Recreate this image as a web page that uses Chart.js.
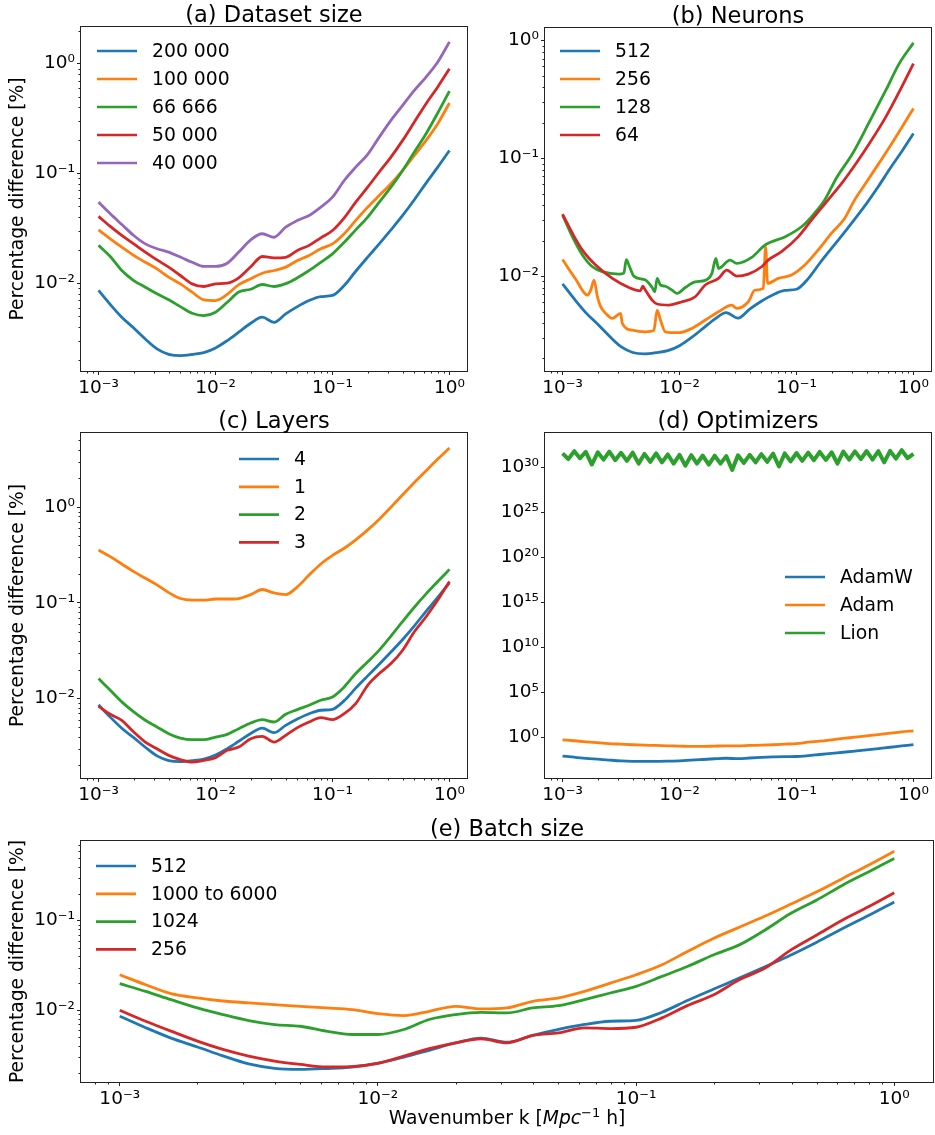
<!DOCTYPE html>
<html>
<head>
<meta charset="utf-8">
<script src="https://cdn.jsdelivr.net/npm/chart.js"></script>
<style>
  body { margin: 0; background: #fff; width: 935px; height: 1135px; position: relative; overflow: hidden; }
  canvas { position: absolute; }
</style>
</head>
<body>
<canvas id="cA" width="470" height="400" style="left:0;top:0"></canvas>
<canvas id="cB" width="465" height="400" style="left:470px;top:0"></canvas>
<canvas id="cC" width="470" height="400" style="left:0;top:400px"></canvas>
<canvas id="cD" width="465" height="400" style="left:470px;top:400px"></canvas>
<canvas id="cE" width="935" height="335" style="left:0;top:800px"></canvas>
<script>
// wavenumber grid k (10^-3 .. 10^0, 0.1 dex steps)
const kGrid = [0.001, 0.00126, 0.00158, 0.002, 0.00251, 0.00316, 0.00398, 0.00501, 0.00631, 0.00794,
  0.01, 0.0126, 0.0158, 0.02, 0.0251, 0.0316, 0.0398, 0.0501, 0.0631, 0.0794,
  0.1, 0.126, 0.158, 0.2, 0.251, 0.316, 0.398, 0.501, 0.631, 0.794, 1];

// reference run (200 000 samples, 512 neurons, 4 layers, AdamW, batch 512)
const baseline = [0.0086, 0.0064, 0.0049, 0.0039, 0.0031, 0.00252, 0.00225, 0.00219, 0.00224, 0.00233,
  0.00257, 0.0030, 0.00358, 0.00432, 0.0049, 0.0044, 0.00525, 0.00612, 0.00695, 0.00755,
  0.00773, 0.00952, 0.01285, 0.01726, 0.02285, 0.0306, 0.0414, 0.0575, 0.0817, 0.114, 0.162];

// (a) dataset size
const labelsA = ['200 000', '100 000', '66 666', '50 000', '40 000'];
const a100k = [0.0306, 0.0254, 0.0213, 0.0179, 0.0155, 0.0135, 0.01135, 0.00986, 0.00828, 0.00705,
  0.00695, 0.0079, 0.0097, 0.01096, 0.01233, 0.01305, 0.014, 0.0161, 0.0179, 0.0206,
  0.0228, 0.0282, 0.0373, 0.0493, 0.063, 0.0805, 0.1065, 0.146, 0.2, 0.284, 0.438];
const a66k = [0.0221, 0.0175, 0.01305, 0.01057, 0.0092, 0.008, 0.00705, 0.00612, 0.00532, 0.00507,
  0.00544, 0.0067, 0.0083, 0.0088, 0.00973, 0.00933, 0.0099, 0.0112, 0.01305, 0.0155,
  0.0185, 0.0236, 0.0306, 0.04, 0.0548, 0.075, 0.1065, 0.157, 0.23, 0.355, 0.563];
const a50k = [0.0406, 0.0329, 0.0272, 0.0228, 0.0192, 0.0163, 0.014, 0.01175, 0.00986, 0.00933,
  0.00986, 0.0100, 0.0112, 0.0141, 0.0175, 0.017, 0.0172, 0.0199, 0.0221, 0.0259,
  0.0302, 0.0394, 0.0548, 0.075, 0.103, 0.141, 0.2, 0.294, 0.432, 0.613, 0.90];
const a40k = [0.0548, 0.0429, 0.0343, 0.0272, 0.0228, 0.0206, 0.0192, 0.0173, 0.0155, 0.0142,
  0.0142, 0.0152, 0.0192, 0.0248, 0.0282, 0.0262, 0.0324, 0.0373, 0.0414, 0.0493,
  0.0608, 0.0862, 0.114, 0.149, 0.214, 0.304, 0.417, 0.571, 0.755, 1.035, 1.58];

// (b) neurons, the spiky curves have their own k points
const labelsB = ['512', '256', '128', '64'];
const kB256 = [0.001, 0.001297, 0.001633, 0.001742, 0.001858, 0.001986, 0.002118, 0.002339, 0.002667, 0.003133,
  0.003243, 0.003945, 0.005117, 0.006026, 0.006442, 0.006871, 0.007568, 0.009817, 0.01276, 0.0166,
  0.02153, 0.02799, 0.03083, 0.03873, 0.04416, 0.052, 0.05445, 0.05662, 0.06966, 0.09057,
  0.1178, 0.1528, 0.1986, 0.2576, 0.3133, 0.3981, 0.5012, 0.631, 0.7943, 1];
const b256 = [0.0138, 0.0094, 0.0069, 0.0076, 0.00925, 0.00668, 0.0055, 0.00483, 0.00438, 0.00483,
  0.00397, 0.00348, 0.00337, 0.00345, 0.00515, 0.00424, 0.00337, 0.00331, 0.0036, 0.00424,
  0.00499, 0.00568, 0.00532, 0.00606, 0.0076, 0.00786, 0.01774, 0.00867, 0.00955, 0.0102,
  0.0124, 0.0166, 0.023, 0.0308, 0.0441, 0.063, 0.089, 0.126, 0.182, 0.264];
const kB128 = [0.001, 0.001216, 0.001479, 0.001799, 0.002188, 0.003034, 0.003342, 0.003508, 0.003741, 0.004064,
  0.005117, 0.005834, 0.006138, 0.006442, 0.006871, 0.007568, 0.00863, 0.009528, 0.0112, 0.01361,
  0.0166, 0.01892, 0.02046, 0.02153, 0.02704, 0.03083, 0.0414, 0.0537, 0.06124, 0.07943,
  0.1104, 0.1343, 0.1742, 0.2183, 0.3027, 0.4198, 0.5808, 0.7551, 1];
const b128 = [0.0329, 0.0215, 0.0151, 0.012, 0.0109, 0.0104, 0.0106, 0.0138, 0.012, 0.01,
  0.00925, 0.008, 0.00736, 0.00955, 0.0084, 0.0082, 0.0076, 0.00713, 0.008, 0.00895,
  0.0092, 0.01054, 0.0141, 0.0116, 0.01367, 0.0128, 0.0144, 0.0183, 0.01954, 0.0215,
  0.0262, 0.0318, 0.0441, 0.0673, 0.11, 0.203, 0.377, 0.634, 0.95];
const kB64 = [0.001, 0.001216, 0.001479, 0.001919, 0.002667, 0.00369, 0.004634, 0.004853, 0.00507, 0.005834,
  0.006442, 0.008072, 0.0105, 0.01361, 0.0166, 0.02153, 0.02535, 0.03083, 0.03873, 0.05035,
  0.05728, 0.07447, 0.1033, 0.1343, 0.1858, 0.2489, 0.3228, 0.4198, 0.5808, 0.7551, 1];
const b64 = [0.0335, 0.023, 0.0166, 0.0124, 0.00955, 0.008, 0.0075, 0.00823, 0.0077, 0.00626,
  0.0058, 0.00568, 0.00606, 0.00668, 0.0084, 0.00955, 0.01125, 0.01, 0.0104, 0.012,
  0.01367, 0.0161, 0.0215, 0.0298, 0.0441, 0.063, 0.0902, 0.133, 0.224, 0.365, 0.634];

// (c) layers
const labelsC = ['4', '1', '2', '3'];
const c1 = [0.357, 0.304, 0.255, 0.212, 0.181, 0.154, 0.128, 0.111, 0.107, 0.107,
  0.1097, 0.1097, 0.111, 0.122, 0.138, 0.127, 0.122, 0.147, 0.195, 0.255,
  0.314, 0.372, 0.455, 0.579, 0.749, 1.0, 1.346, 1.81, 2.40, 3.18, 4.15];
const c2 = [0.0162, 0.01222, 0.00923, 0.00725, 0.00593, 0.00505, 0.0043, 0.00387, 0.00372, 0.00372,
  0.00396, 0.00423, 0.00485, 0.00555, 0.00603, 0.00569, 0.00685, 0.00767, 0.0085, 0.0096,
  0.0104, 0.01324, 0.01827, 0.0242, 0.0321, 0.045, 0.064, 0.09, 0.124, 0.167, 0.224];
const c3 = [0.0083, 0.00685, 0.00593, 0.00447, 0.00351, 0.00299, 0.00255, 0.0023, 0.00217, 0.00226,
  0.00241, 0.00288, 0.00311, 0.00381, 0.00403, 0.00351, 0.00413, 0.00497, 0.00569, 0.00632,
  0.00603, 0.00697, 0.00887, 0.01377, 0.01827, 0.0232, 0.032, 0.0499, 0.0716, 0.107, 0.167];

// (d) optimizers
const labelsD = ['AdamW', 'Adam', 'Lion'];
const dAdam = [0.55, 0.43, 0.33, 0.26, 0.21, 0.18, 0.155, 0.14, 0.13, 0.118,
  0.11, 0.1, 0.1, 0.11, 0.118, 0.118, 0.13, 0.14, 0.155, 0.18,
  0.21, 0.3, 0.39, 0.55, 0.78, 1.07, 1.5, 2.1, 3.0, 4.2, 5.4];
const kLion = [0.001, 0.00112, 0.00126, 0.00141, 0.00158, 0.00178, 0.002, 0.00224, 0.00251, 0.00282,
  0.00316, 0.00355, 0.00398, 0.00447, 0.00501, 0.00562, 0.00631, 0.00708, 0.00794, 0.00891,
  0.01, 0.0112, 0.0126, 0.0141, 0.0158, 0.0178, 0.02, 0.0224, 0.0251, 0.0282,
  0.0316, 0.0355, 0.0398, 0.0447, 0.0501, 0.0562, 0.0631, 0.0708, 0.0794, 0.0891,
  0.1, 0.112, 0.126, 0.141, 0.158, 0.178, 0.2, 0.224, 0.251, 0.282,
  0.316, 0.355, 0.398, 0.447, 0.501, 0.562, 0.631, 0.708, 0.794, 0.891, 1];
const dLion = [3.5e31, 8.0e30, 6.0e31, 1.0e31, 5.0e31, 2.0e30, 4.5e31, 7.0e30, 5.5e31, 6.0e30,
  4.0e31, 5.0e30, 4.2e31, 2.5e30, 3.0e31, 4.0e30, 3.5e31, 3.5e30, 2.6e31, 2.5e30,
  2.4e31, 1.5e30, 2.2e31, 2.5e30, 2.0e31, 2.0e30, 1.9e31, 2.5e30, 1.7e31, 5.0e29,
  2.1e31, 3.0e30, 2.4e31, 3.5e30, 2.8e31, 4.0e30, 3.2e31, 1.2e30, 3.4e31, 4.5e30,
  3.8e31, 5.0e30, 4.2e31, 6.0e30, 5.0e31, 6.5e30, 4.6e31, 2.5e30, 5.5e31, 7.0e30,
  5.8e31, 8.0e30, 6.3e31, 7.0e30, 6.0e31, 3.5e30, 6.5e31, 9.0e30, 8.0e31, 1.0e31, 3.0e31];

// (e) batch size
const labelsE = ['512', '1000 to 6000', '1024', '256'];
const e1000 = [0.0249, 0.0193, 0.01535, 0.01374, 0.0127, 0.01208, 0.01156, 0.01107, 0.01063, 0.01018,
  0.00918, 0.00873, 0.00975, 0.01107, 0.01035, 0.01063, 0.01259, 0.01374, 0.01626, 0.0201,
  0.0249, 0.0322, 0.0453, 0.0637, 0.0844, 0.1127, 0.1534, 0.21, 0.296, 0.416, 0.594];
const e1024 = [0.0198, 0.01626, 0.01315, 0.01063, 0.00896, 0.00768, 0.00693, 0.00664, 0.00585, 0.00537,
  0.00537, 0.00611, 0.00789, 0.00896, 0.0095, 0.00935, 0.01063, 0.01127, 0.01315, 0.0156,
  0.0185, 0.0239, 0.0308, 0.0416, 0.0537, 0.0788, 0.1208, 0.170, 0.249, 0.35, 0.493];
const e256 = [0.0100, 0.00755, 0.00585, 0.00453, 0.00366, 0.00308, 0.00271, 0.00249, 0.00233, 0.00235,
  0.00256, 0.00308, 0.00373, 0.00434, 0.00481, 0.00434, 0.00524, 0.00561, 0.00637, 0.00625,
  0.00647, 0.00823, 0.01127, 0.0149, 0.0219, 0.0296, 0.0472, 0.0693, 0.102, 0.143, 0.205];

const C = ['#1f77b4', '#ff7f0e', '#2ca02c', '#d62728', '#9467bd'];
const FONT = "'DejaVu Sans'";
const SUP = {'-': '\u207B', '0': '\u2070', '1': '\u00B9', '2': '\u00B2', '3': '\u00B3', '4': '\u2074',
  '5': '\u2075', '6': '\u2076', '7': '\u2077', '8': '\u2078', '9': '\u2079'};
const powLabel = v => '10' + String(Math.round(Math.log10(v))).split('').map(c => SUP[c]).join('');

// frame, minor ticks, title, legend and axis titles drawn matplotlib-like
const panelDeco = {
  id: 'panelDeco',
  afterDraw(chart, args, o) {
    const ctx = chart.ctx, a = chart.chartArea;
    ctx.save();
    ctx.strokeStyle = '#222';
    ctx.lineWidth = 1;
    ctx.strokeRect(a.left - 0.5, a.top - 0.5, a.right - a.left + 1, a.bottom - a.top + 1);

    const minors = (sc, horiz) => {
      const lo = Math.floor(Math.log10(sc.min)), hi = Math.ceil(Math.log10(sc.max));
      ctx.beginPath();
      for (let d = lo; d <= hi; d++) {
        for (let m = 2; m <= 9; m++) {
          const v = m * Math.pow(10, d);
          if (v < sc.min || v > sc.max) continue;
          const p = Math.round(sc.getPixelForValue(v)) + 0.5;
          if (horiz) { ctx.moveTo(p, a.bottom); ctx.lineTo(p, a.bottom + 2.5); }
          else { ctx.moveTo(a.left, p); ctx.lineTo(a.left - 2.5, p); }
        }
      }
      ctx.stroke();
    };
    minors(chart.scales.x, true);
    if (o.minorY) minors(chart.scales.y, false);

    ctx.fillStyle = '#000';
    ctx.font = '22.5px ' + FONT;
    ctx.textAlign = 'center';
    ctx.textBaseline = 'alphabetic';
    ctx.fillText(o.title, (a.left + a.right) / 2, a.top - 5);

    const lg = o.legend;
    ctx.font = '18.8px ' + FONT;
    ctx.textAlign = 'left';
    ctx.textBaseline = 'middle';
    chart.data.datasets.forEach((ds, i) => {
      const x = a.left + lg.x, y = a.top + lg.y + i * lg.dy;
      ctx.strokeStyle = ds.borderColor;
      ctx.lineWidth = 2.7;
      ctx.beginPath(); ctx.moveTo(x, y); ctx.lineTo(x + 40, y); ctx.stroke();
      ctx.fillText(ds.label, x + 55, y + 1);
    });

    if (o.yTitle) {
      ctx.save();
      ctx.translate(18, (a.top + a.bottom) / 2);
      ctx.rotate(-Math.PI / 2);
      ctx.font = '18.7px ' + FONT;
      ctx.textAlign = 'center';
      ctx.fillText('Percentage difference [%]', 0, 0);
      ctx.restore();
    }

    if (o.xTitle) {
      const parts = [
        ['Wavenumber k [', '18.7px ' + FONT, 0],
        ['Mpc', 'italic 18.7px ' + FONT, 0],
        ['\u22121', '13px ' + FONT, -7],
        [' h]', '18.7px ' + FONT, 0]
      ];
      let w = 0;
      parts.forEach(p => { ctx.font = p[1]; w += ctx.measureText(p[0]).width; });
      let x = (a.left + a.right) / 2 - w / 2;
      ctx.textAlign = 'left';
      ctx.textBaseline = 'alphabetic';
      parts.forEach(p => {
        ctx.font = p[1];
        ctx.fillText(p[0], x, o.xTitle + p[2]);
        x += ctx.measureText(p[0]).width;
      });
    }
    ctx.restore();
  }
};

function logAxis(min, max, majors, fit) {
  return {
    type: 'logarithmic', min: min, max: max,
    afterBuildTicks: sc => { sc.ticks = majors.map(v => ({ value: v })); },
    afterFit: fit,
    ticks: { autoSkip: false, maxRotation: 0, minRotation: 0, padding: 2, color: '#000',
      font: { family: FONT, size: 18.5 }, callback: v => powLabel(v) },
    grid: { drawOnChartArea: false, tickLength: 4, tickColor: '#222', tickWidth: 1 },
    border: { display: false }
  };
}

function panel(id, p) {
  const n = p.series.length;
  return new Chart(document.getElementById(id), {
    type: 'line',
    data: {
      datasets: p.series.map((s, i) => ({
        label: s.label,
        data: s.k.map((k, j) => ({ x: k, y: s.v[j] })),
        borderColor: s.color, backgroundColor: s.color,
        borderWidth: s.width || 2.8, pointRadius: 0, fill: false,
        cubicInterpolationMode: s.straight ? 'default' : 'monotone', tension: 0,
        borderJoinStyle: 'round',
        order: n - i
      }))
    },
    options: {
      responsive: false, animation: false, devicePixelRatio: 1,
      layout: { autoPadding: false, padding: p.pad },
      scales: {
        x: logAxis(Math.pow(10, -3.15), Math.pow(10, 0.15), [0.001, 0.01, 0.1, 1], sc => { sc.height = p.xH; }),
        y: logAxis(p.yMin, p.yMax, p.yMajors, sc => { sc.width = p.yW; })
      },
      plugins: { legend: { display: false }, tooltip: { enabled: false }, panelDeco: p.deco }
    },
    plugins: [panelDeco]
  });
}

panel('cA', {
  pad: { left: 0, right: 3, top: 27, bottom: 0 }, xH: 29, yW: 81,
  yMin: Math.pow(10, -2.80), yMax: Math.pow(10, 0.334), yMajors: [0.01, 0.1, 1],
  series: [
    { label: labelsA[0], k: kGrid, v: baseline, color: C[0] },
    { label: labelsA[1], k: kGrid, v: a100k, color: C[1] },
    { label: labelsA[2], k: kGrid, v: a66k, color: C[2] },
    { label: labelsA[3], k: kGrid, v: a50k, color: C[3] },
    { label: labelsA[4], k: kGrid, v: a40k, color: C[4] }
  ],
  deco: { title: '(a) Dataset size', minorY: true, yTitle: true, legend: { x: 16, y: 24, dy: 28 } }
});

panel('cB', {
  pad: { left: 0, right: 4, top: 28, bottom: 0 }, xH: 29, yW: 75,
  yMin: Math.pow(10, -2.805), yMax: Math.pow(10, 0.104), yMajors: [0.01, 0.1, 1],
  series: [
    { label: labelsB[0], k: kGrid, v: baseline, color: C[0] },
    { label: labelsB[1], k: kB256, v: b256, color: C[1] },
    { label: labelsB[2], k: kB128, v: b128, color: C[2] },
    { label: labelsB[3], k: kB64, v: b64, color: C[3] }
  ],
  deco: { title: '(b) Neurons', minorY: true, legend: { x: 15, y: 23, dy: 28 } }
});

panel('cC', {
  pad: { left: 0, right: 3, top: 33, bottom: 0 }, xH: 22, yW: 81,
  yMin: Math.pow(10, -2.83), yMax: Math.pow(10, 0.775), yMajors: [0.01, 0.1, 1],
  series: [
    { label: labelsC[0], k: kGrid, v: baseline, color: C[0] },
    { label: labelsC[1], k: kGrid, v: c1, color: C[1] },
    { label: labelsC[2], k: kGrid, v: c2, color: C[2] },
    { label: labelsC[3], k: kGrid, v: c3, color: C[3] }
  ],
  deco: { title: '(c) Layers', minorY: true, yTitle: true, legend: { x: 158, y: 26, dy: 27.8 } }
});

panel('cD', {
  pad: { left: 0, right: 4, top: 33, bottom: 0 }, xH: 22, yW: 75,
  yMin: Math.pow(10, -4.5), yMax: Math.pow(10, 33.8), yMajors: [1, 1e5, 1e10, 1e15, 1e20, 1e25, 1e30],
  series: [
    { label: labelsD[0], k: kGrid, v: baseline, color: C[0] },
    { label: labelsD[1], k: kGrid, v: dAdam, color: C[1] },
    { label: labelsD[2], k: kLion, v: dLion, color: C[2], width: 4, straight: true }
  ],
  deco: { title: '(d) Optimizers', minorY: false, legend: { x: 240, y: 144, dy: 28 } }
});

panel('cE', {
  pad: { left: 0, right: 2, top: 41, bottom: 0 }, xH: 53, yW: 81,
  yMin: Math.pow(10, -2.80), yMax: Math.pow(10, -0.111), yMajors: [0.01, 0.1],
  series: [
    { label: labelsE[0], k: kGrid, v: baseline, color: C[0] },
    { label: labelsE[1], k: kGrid, v: e1000, color: C[1] },
    { label: labelsE[2], k: kGrid, v: e1024, color: C[2] },
    { label: labelsE[3], k: kGrid, v: e256, color: C[3] }
  ],
  deco: { title: '(e) Batch size', minorY: true, yTitle: true, xTitle: 324, legend: { x: 15, y: 25, dy: 27.8 } }
});
</script>
</body>
</html>
